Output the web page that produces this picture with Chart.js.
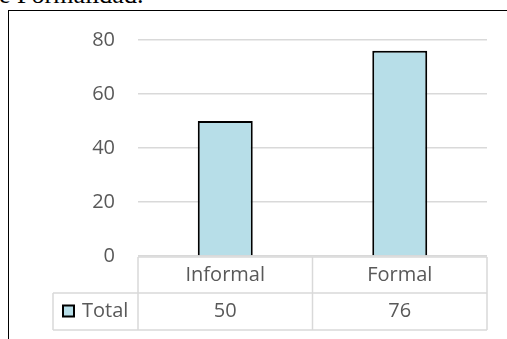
<!DOCTYPE html>
<html>
<head>
<meta charset="utf-8">
<script src="https://cdn.jsdelivr.net/npm/chart.js@4.4.1/dist/chart.umd.min.js"></script>
<style>
  html, body { margin: 0; padding: 0; background: #fff; overflow: hidden; }
  #wrap { position: relative; width: 507px; height: 339px; }
  #frame { position: absolute; left: 8px; top: 10px; width: 600px; height: 400px;
           border-left: 1.5px solid #000; border-top: 1.5px solid #000; box-sizing: border-box; }
  #caption { position: absolute; left: -1px; top: -23px; font: 26px "Liberation Serif", serif;
             color: #000; white-space: nowrap; line-height: 36px; }
  canvas { position: absolute; left: 0; top: 0; }
</style>
</head>
<body>
<div id="wrap">
  <div id="caption">e Formalidad.</div>
  <div id="frame"></div>
  <canvas id="c" width="507" height="339"></canvas>
</div>
<script>
// Categories and the single "Total" series shown in the bars and the data table
const categories = ['Informal', 'Formal'];
const seriesName = 'Total';
const totals = [50, 76];
const yMin = 0, yMax = 80, yStep = 20;

const FONT = '"Open Sans", sans-serif';
const TEXT = '#595959';
const LINE = '#D9D9D9';
const BAR_FILL = '#B7DEE8';

// Data table under the plot: category row, then legend key + values row
const dataTable = {
  id: 'dataTable',
  afterDraw(chart) {
    const ctx = chart.ctx;
    const x = chart.scales.x;
    const area = chart.chartArea;
    const top = area.bottom + 1;
    const rowH = [36, 37];
    const mid = top + rowH[0];
    const bottom = mid + rowH[1];
    const n = categories.length;
    const cols = [x.left];
    for (let i = 0; i < n - 1; i++) {
      cols.push((x.getPixelForValue(i) + x.getPixelForValue(i + 1)) / 2);
    }
    cols.push(x.right);
    const legendLeft = 53;

    ctx.save();
    ctx.strokeStyle = LINE;
    ctx.lineWidth = 1.5;
    ctx.beginPath();
    // horizontal rules
    ctx.moveTo(x.left, top); ctx.lineTo(x.right, top);
    ctx.moveTo(legendLeft, mid); ctx.lineTo(x.right, mid);
    ctx.moveTo(legendLeft, bottom); ctx.lineTo(x.right, bottom);
    // vertical rules
    cols.forEach(c => { ctx.moveTo(c, top); ctx.lineTo(c, bottom); });
    ctx.moveTo(legendLeft, mid); ctx.lineTo(legendLeft, bottom);
    ctx.stroke();

    ctx.fillStyle = TEXT;
    ctx.font = '20px ' + FONT;
    ctx.textAlign = 'center';
    ctx.textBaseline = 'middle';
    categories.forEach((cat, i) => {
      const cx = x.getPixelForValue(i);
      ctx.fillText(cat, cx, top + rowH[0] / 2);
      ctx.fillText(String(totals[i]), cx, mid + rowH[1] / 2);
    });

    // legend key
    const ky = mid + rowH[1] / 2;
    ctx.fillStyle = BAR_FILL;
    ctx.fillRect(63, ky - 6, 11, 11);
    ctx.strokeStyle = '#000';
    ctx.lineWidth = 2;
    ctx.strokeRect(63, ky - 6, 11, 11);
    ctx.fillStyle = TEXT;
    ctx.textAlign = 'left';
    ctx.fillText(seriesName, 82, ky);
    ctx.restore();
  }
};

new Chart(document.getElementById('c'), {
  type: 'bar',
  data: {
    labels: categories,
    datasets: [{
      label: seriesName,
      data: totals,
      backgroundColor: BAR_FILL,
      borderColor: '#000',
      borderWidth: 2,
      categoryPercentage: 1,
      barPercentage: 0.315
    }]
  },
  options: {
    responsive: false,
    animation: false,
    devicePixelRatio: 1,
    layout: { padding: { left: 0, right: 20, top: 40, bottom: 83 } },
    plugins: { legend: { display: false }, tooltip: { enabled: false } },
    scales: {
      x: { display: false },
      y: {
        min: yMin, max: yMax,
        afterFit(scale) { scale.width = 138; },
        border: { display: false },
        grid: { color: LINE, lineWidth: 1.5, drawTicks: false },
        ticks: {
          stepSize: yStep,
          padding: 23,
          color: TEXT,
          font: { family: FONT, size: 20 }
        }
      }
    }
  },
  plugins: [dataTable]
});
</script>
</body>
</html>
